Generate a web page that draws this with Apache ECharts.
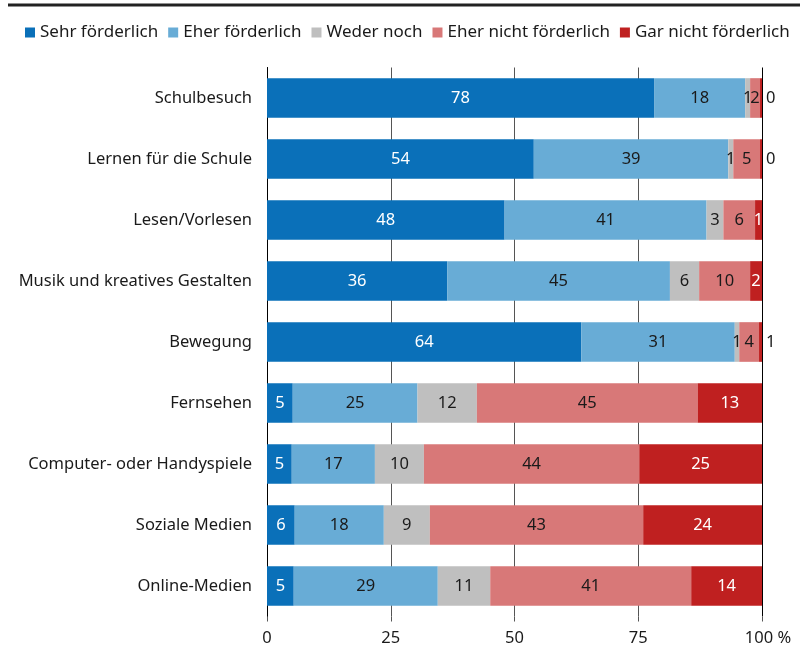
<!DOCTYPE html>
<html>
<head>
<meta charset="utf-8">
<script src="https://cdn.jsdelivr.net/npm/echarts@6/dist/echarts.min.js"></script>
<style>html,body{margin:0;padding:0;background:#fff}#c{width:807px;height:650px}</style>
</head>
<body>
<div id="c"></div>
<script>
const categories = ['Schulbesuch','Lernen für die Schule','Lesen/Vorlesen','Musik und kreatives Gestalten','Bewegung','Fernsehen','Computer- oder Handyspiele','Soziale Medien','Online-Medien'];
const seriesNames = ['Sehr förderlich','Eher förderlich','Weder noch','Eher nicht förderlich','Gar nicht förderlich'];
const sehr = [78.2, 53.9, 48.0, 36.4, 63.5, 5.2, 5.0, 5.6, 5.4];
const eher = [18.4, 39.3, 40.8, 45.0, 31.0, 25.2, 16.8, 18.0, 29.1];
const weder = [1.0, 1.0, 3.4, 5.9, 0.9, 12.0, 9.9, 9.3, 10.6];
const eherNicht = [2.0, 5.4, 6.4, 10.3, 4.0, 44.6, 43.5, 43.1, 40.6];
const gar = [0.4, 0.4, 1.4, 2.4, 0.6, 13.0, 24.8, 24.0, 14.3];
const xTicks = [0, 25, 50, 75, 100];

const colors = ['#0a70b9', '#68acd6', '#bfbfbf', '#d87878', '#bf2020'];
const labelColors = ['#ffffff', '#1a1a1a', '#1a1a1a', '#1a1a1a', '#ffffff'];
const FONT = 'Noto Sans';
const FS = 16.5;
const allData = [sehr, eher, weder, eherNicht, gar];

const series = allData.map((arr, si) => ({
  name: seriesNames[si],
  type: 'bar',
  stack: 'total',
  barWidth: '65%',
  itemStyle: { color: colors[si] },
  label: {
    show: true,
    position: 'inside',
    color: labelColors[si],
    fontFamily: FONT,
    fontSize: FS,
    formatter: p => String(Math.round(p.value))
  },
  data: arr.map(v => {
    if (si === 4 && v < 1) {
      return { value: v, label: { position: 'right', distance: 4, color: '#1a1a1a' } };
    }
    return v;
  })
}));

const chart = echarts.init(document.getElementById('c'));
chart.setOption({
  animation: false,
  textStyle: { fontFamily: FONT },
  graphic: [{
    type: 'line',
    shape: { x1: 8, y1: 5, x2: 800, y2: 5 },
    style: { stroke: '#222', lineWidth: 3 }
  }],
  legend: {
    top: 19,
    left: 20,
    icon: 'rect',
    itemWidth: 10,
    itemHeight: 10,
    itemGap: 10,
    textStyle: { fontFamily: FONT, fontSize: 17, color: '#1a1a1a' },
    data: seriesNames
  },
  grid: { left: 267, right: 45, top: 67.5, bottom: 33.5, containLabel: false },
  xAxis: {
    type: 'value',
    min: xTicks[0],
    max: xTicks[xTicks.length - 1],
    interval: 25,
    axisLine: { show: false },
    axisTick: { show: true, length: 5, lineStyle: { color: '#555' } },
    splitLine: { show: true, lineStyle: { color: ['#000', '#555', '#555', '#555', '#000'], width: 1 } },
    axisLabel: {
      margin: 13,
      fontFamily: FONT,
      fontSize: FS,
      color: '#1a1a1a',
      formatter: v => v === 100 ? '{p|100 %}' : String(v),
      rich: { p: { fontFamily: FONT, fontSize: FS, color: '#1a1a1a', padding: [0, 0, 0, 12] } }
    }
  },
  yAxis: {
    type: 'category',
    inverse: true,
    data: categories,
    axisLine: { show: true, lineStyle: { color: '#000', width: 1 } },
    axisTick: { show: false },
    axisLabel: { margin: 15, fontFamily: FONT, fontSize: FS, color: '#1a1a1a' }
  },
  series: series
});
</script>
</body>
</html>
